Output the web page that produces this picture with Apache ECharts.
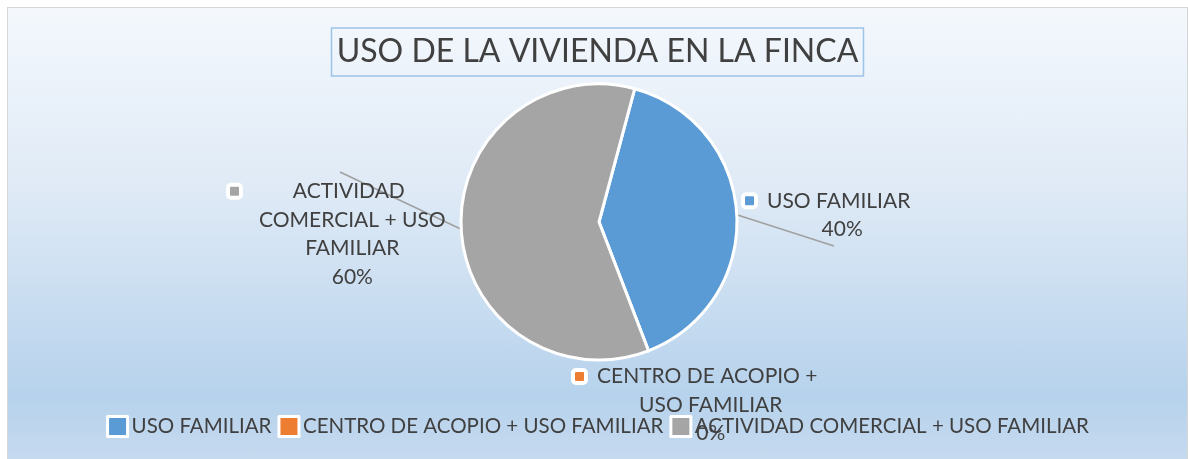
<!DOCTYPE html>
<html>
<head>
<meta charset="utf-8">
<script src="https://cdn.jsdelivr.net/npm/echarts@6/dist/echarts.min.js"></script>
<style>
html,body{margin:0;padding:0;background:#fff;}
#main{
	position:absolute;left:7px;top:7px;width:1179px;height:452px;
	border-left:1px solid #d6d6d6;border-top:1px solid #d6d6d6;border-right:1px solid #d6d6d6;
	background:linear-gradient(to bottom,#f4f8fd 0%,#dfeaf6 40%,#b6d2ec 86%,#c6daef 100%);
}
</style>
</head>
<body>
<div id="main"></div>
<script>
// datos del grafico
var categorias = ['USO FAMILIAR', 'CENTRO DE ACOPIO + USO FAMILIAR', 'ACTIVIDAD COMERCIAL + USO FAMILIAR'];
// texto de las etiquetas (con saltos como en Excel)
var etiquetas = [['USO FAMILIAR'], ['CENTRO DE ACOPIO +', 'USO FAMILIAR'], ['ACTIVIDAD', 'COMERCIAL + USO', 'FAMILIAR']];
var valores = [40, 0, 60];
var colores = ['#5b9bd5', '#ed7d31', '#a5a5a5'];

// posicion de cada etiqueta: [x izq, y centro, x fin linea, y fin linea]
var posEtiquetas = [[737, 207, 826, 238], [567, 397, null, null], [222, 226, 332, 164]];

var myChart = echarts.init(document.getElementById('main'));

var rich = {
	t: {fontSize: 21, color: '#404040', align: 'center', lineHeight: 28.5, fontFamily: 'Lato'},
	g: {width: 13, align: 'left'},
	sp: {width: 29, align: 'left'}
};
colores.forEach(function (c, i) {
	rich['sq' + i] = {width: 9, height: 9, backgroundColor: c, borderColor: '#fff', borderWidth: 4, borderRadius: 1, align: 'left'};
});

var datos = valores.map(function (v, i) {
	return {
		name: categorias[i],
		value: v,
		itemStyle: {color: colores[i]},
		labelLine: {show: i !== 1}
	};
});

var option = {
	title: {
		text: 'USO DE LA VIVIENDA EN LA FINCA',
		left: 'center',
		top: 20,
		padding: [8, 5, 8, 5],
		borderColor: '#9dc3e6',
		borderWidth: 1.5,
		textStyle: {fontFamily: 'Lato', fontSize: 32, fontWeight: 'normal', color: '#404040'}
	},
	legend: {
		bottom: 17,
		left: 'center',
		itemWidth: 20,
		itemHeight: 20,
		itemGap: 6,
		icon: 'rect',
		itemStyle: {borderColor: '#fff', borderWidth: 3},
		textStyle: {fontFamily: 'Lato', fontSize: 20.5, color: '#404040', padding: [0, 0, 0, -1]},
		data: categorias
	},
	series: [{
		type: 'pie',
		center: [591, 214],
		radius: 138,
		startAngle: 75,
		clockwise: true,
		avoidLabelOverlap: false,
		itemStyle: {borderColor: '#fff', borderWidth: 3},
		label: {
			show: true,
			formatter: function (p) {
				var lineas = etiquetas[p.dataIndex].slice();
				lineas.push(Math.round(p.percent) + '%');
				return lineas.map(function (l, k) {
					return (k === 0 ? '{sq' + p.dataIndex + '|}{g|}' : '{sp|}') + '{t|' + l + '}';
				}).join('\n');
			},
			rich: rich
		},
		labelLine: {show: true, lineStyle: {color: '#a0a0a0', width: 1.5}},
		labelLayout: function (params) {
			var p = posEtiquetas[params.dataIndex];
			var res = {x: p[0], y: p[1], align: 'left', verticalAlign: 'middle'};
			if (p[2] !== null && params.labelLinePoints) {
				var ini = params.labelLinePoints[0];
				res.labelLinePoints = [ini, [p[2], p[3]], [p[2], p[3]]];
			}
			return res;
		},
		data: datos
	}]
};
myChart.setOption(option);
</script>
</body>
</html>
